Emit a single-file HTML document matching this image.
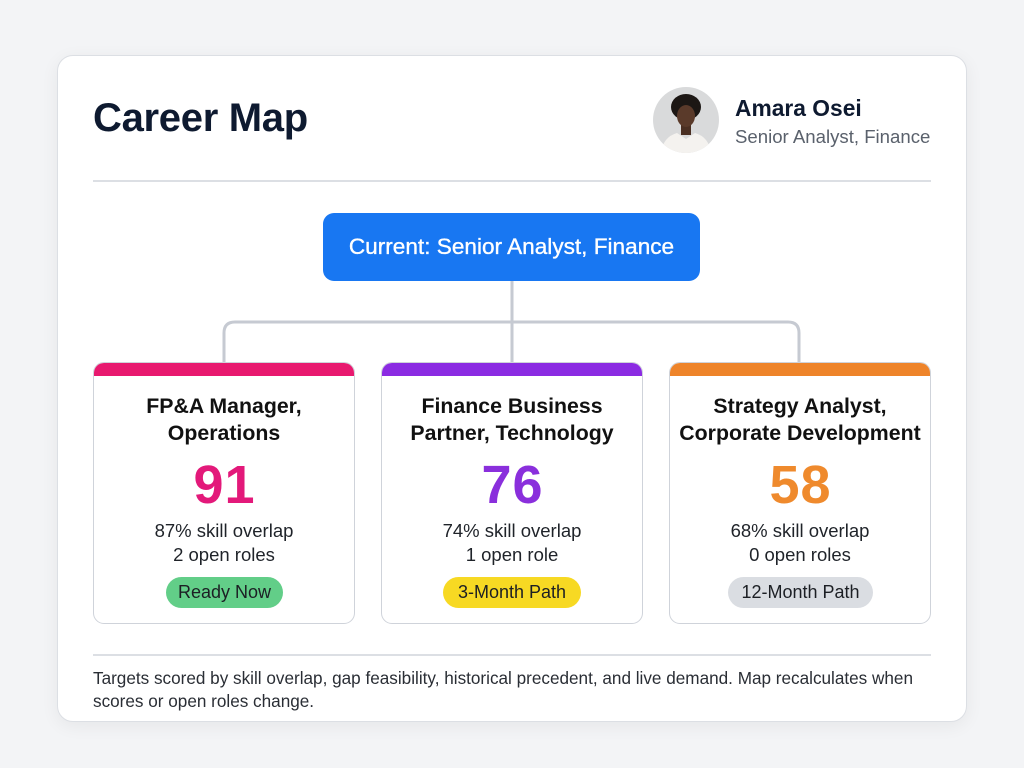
<!DOCTYPE html>
<html>
<head>
<meta charset="utf-8">
<style>
  html, body { margin:0; padding:0; }
  body { width:1024px; height:768px; background:#f3f4f6; position:relative; overflow:hidden; font-family:"Liberation Sans", Arial, sans-serif; }
  .abs { position:absolute; }
  .panel { left:57px; top:55px; width:908px; height:665px; background:#fff; border:1px solid #dcdfe4; border-radius:16px; box-shadow:0 4px 18px rgba(0,0,0,0.06); }
  .title { left:93px; top:98px; font-size:40px; line-height:41px; font-weight:bold; color:#0e1a30; white-space:nowrap; letter-spacing:-0.3px; }
  .name { left:735px; top:96px; font-size:22.8px; line-height:24px; font-weight:bold; color:#0e1a30; white-space:nowrap; }
  .role { left:735px; top:126px; font-size:18.6px; line-height:22px; color:#5a616c; white-space:nowrap; }
  .hr { height:2px; background:#dcdfe4; }
  .current { left:323px; top:213px; width:377px; height:68px; background:#1877f2; border-radius:11px; color:#fff; font-size:22.6px; line-height:68px; text-align:center; white-space:nowrap; -webkit-text-stroke:0.35px #fff; }
  .card { top:362px; width:260px; height:260px; background:#fff; border:1px solid #cfd3da; border-radius:11px; overflow:hidden; }
  .card .bar { position:absolute; left:0; top:0; right:0; height:13px; }
  .card .t { position:absolute; left:0; right:0; top:30px; text-align:center; font-size:21.3px; line-height:27px; font-weight:bold; color:#111; white-space:nowrap; }
  .card .s { position:absolute; left:0; right:0; top:92px; text-align:center; font-size:54px; line-height:60px; font-weight:bold; letter-spacing:1px; text-indent:1px; }
  .card .d { position:absolute; left:0; right:0; top:156px; text-align:center; font-size:18.5px; line-height:24px; color:#1f2329; white-space:nowrap; }
  .card .b { position:absolute; top:214px; height:31px; line-height:31px; font-size:18px; color:#1c1f24; border-radius:16px; text-align:center; white-space:nowrap; }
  .foot { left:93px; top:667px; font-size:17.15px; line-height:23px; color:#2a2e35; white-space:nowrap; }
</style>
</head>
<body>
  <div class="abs panel"></div>
  <div class="abs title">Career Map</div>

  <svg class="abs" style="left:653px;top:87px" width="66" height="66" viewBox="0 0 66 66">
    <defs><clipPath id="c"><circle cx="33" cy="33" r="33"/></clipPath></defs>
    <g clip-path="url(#c)">
      <rect width="66" height="66" fill="#d9dadb"/>
      <ellipse cx="33" cy="20" rx="15" ry="13" fill="#1c1714"/>
      <path d="M8 66 Q10 50 24 46 L33 52 L42 46 Q56 50 58 66 Z" fill="#f4f2ef"/>
      <rect x="28" y="36" width="10" height="12" fill="#4a2f22"/>
      <ellipse cx="33" cy="29" rx="9" ry="11" fill="#5a3a2a"/>
    </g>
  </svg>
  <div class="abs name">Amara Osei</div>
  <div class="abs role">Senior Analyst, Finance</div>

  <div class="abs hr" style="left:93px;top:180px;width:838px;"></div>

  <svg class="abs" style="left:0;top:0" width="1024" height="768">
    <path d="M512 281 V362 M224 362 V333 Q224 322 235 322 H788 Q799 322 799 333 V362" fill="none" stroke="#c6cad2" stroke-width="3"/>
  </svg>

  <div class="abs current">Current: Senior Analyst, Finance</div>

  <div class="abs card" style="left:93px;">
    <div class="bar" style="background:#e8196f"></div>
    <div class="t">FP&amp;A Manager,<br>Operations</div>
    <div class="s" style="color:#e3197a">91</div>
    <div class="d">87% skill overlap<br>2 open roles</div>
    <div class="b" style="left:72px;width:117px;background:#62ce88;">Ready Now</div>
  </div>

  <div class="abs card" style="left:381px;">
    <div class="bar" style="background:#8b2be2"></div>
    <div class="t">Finance Business<br>Partner, Technology</div>
    <div class="s" style="color:#8a2fdc">76</div>
    <div class="d">74% skill overlap<br>1 open role</div>
    <div class="b" style="left:61px;width:138px;background:#f7d923;">3-Month Path</div>
  </div>

  <div class="abs card" style="left:669px;">
    <div class="bar" style="background:#ee842a"></div>
    <div class="t">Strategy Analyst,<br>Corporate Development</div>
    <div class="s" style="color:#ef8a2d">58</div>
    <div class="d">68% skill overlap<br>0 open roles</div>
    <div class="b" style="left:58px;width:145px;background:#dadde2;">12-Month Path</div>
  </div>

  <div class="abs hr" style="left:93px;top:654px;width:838px;"></div>
  <div class="abs foot">Targets scored by skill overlap, gap feasibility, historical precedent, and live demand. Map recalculates when<br>scores or open roles change.</div>
</body>
</html>
